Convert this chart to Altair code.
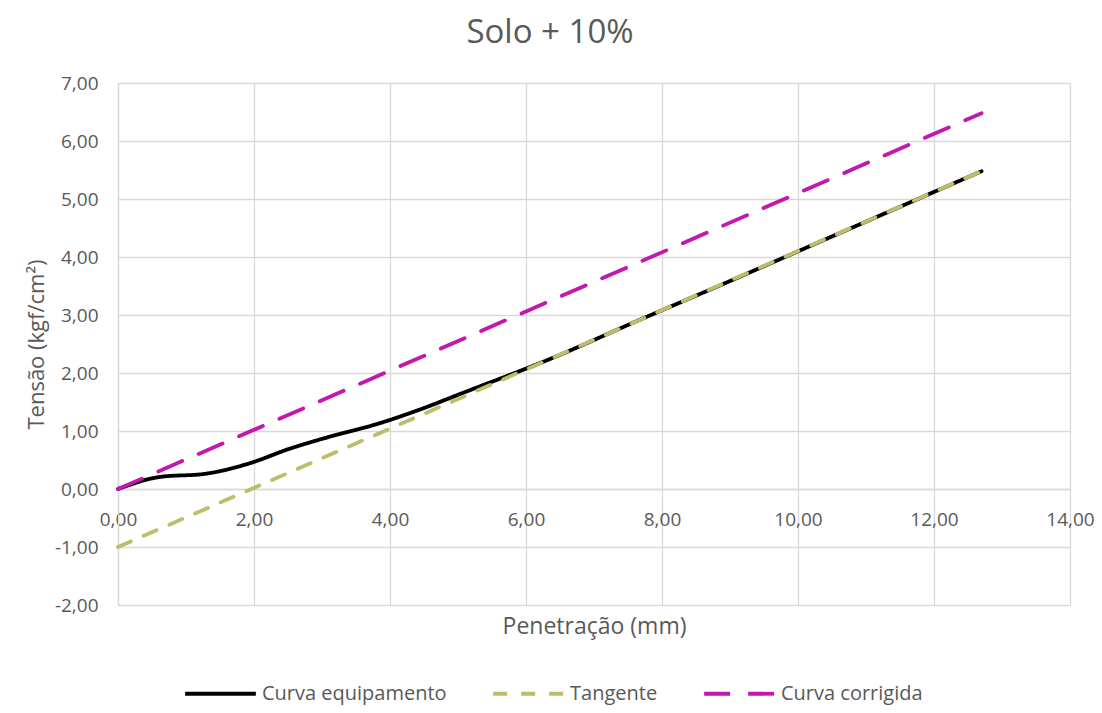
import altair as alt
import pandas as pd

# Curva equipamento (measured curve)
pen_equip = [0.0, 0.63, 1.27, 1.90, 2.54, 3.17, 3.81, 4.44, 5.08, 6.35, 7.62, 8.89, 10.16, 12.70]
ten_equip = [0.0, 0.21, 0.26, 0.43, 0.70, 0.92, 1.12, 1.37, 1.66, 2.24, 2.89, 3.53, 4.18, 5.48]

# Tangente
pen_tang = [0.0, 12.70]
ten_tang = [-1.0, 5.48]

# Curva corrigida
pen_corr = [0.0, 12.70]
ten_corr = [0.0, 6.48]

series_names = ["Curva equipamento", "Tangente", "Curva corrigida"]
series_colors = ["#000000", "#BFBC6C", "#C417B0"]
series_dash = [[1, 0], [14, 14], [26, 18]]

rows = []
for i, (x, y) in enumerate(zip(pen_equip, ten_equip)):
    rows.append({"serie": series_names[0], "x": x, "y": y, "o": i})
for i, (x, y) in enumerate(zip(pen_tang, ten_tang)):
    rows.append({"serie": series_names[1], "x": x, "y": y, "o": i})
for i, (x, y) in enumerate(zip(pen_corr, ten_corr)):
    rows.append({"serie": series_names[2], "x": x, "y": y, "o": i})
df = pd.DataFrame(rows)

FONT = "Open Sans"
TXT = "#595959"
GRID = "#D9D9D9"
SW = 3.8
label_expr = "replace(replace(format(datum.value, '.2f'), '.', ','), '\u2212', '-')"

axis_common = dict(ticks=False, domainColor=GRID, domainWidth=1.3, gridColor=GRID, gridWidth=1.3,
                   labelFont=FONT, titleFont=FONT, labelFontSize=19,
                   labelColor=TXT, titleColor=TXT, titleFontWeight="normal",
                   labelFlush=False, labelOverlap=False, labelExpr=label_expr)

legend_common = dict(title=None, orient="none", direction="horizontal",
                     legendX=65, legendY=573,
                     symbolType="stroke", symbolSize=5000,
                     symbolStrokeWidth=SW,
                     labelFontSize=20, labelColor=TXT, labelFont=FONT, labelLimit=400,
                     labelOffset=4, columnPadding=38)

chart = alt.Chart(df).mark_line(strokeWidth=SW, strokeCap="round", interpolate="monotone").encode(
    x=alt.X("x:Q",
            scale=alt.Scale(domain=[0, 14], nice=False, zero=False),
            axis=alt.Axis(title="Penetração (mm)", values=list(range(0, 15, 2)),
                          offset=-116, labelPadding=21, titleY=126, titleBaseline="top",
                          titleFontSize=23, **axis_common)),
    y=alt.Y("y:Q",
            scale=alt.Scale(domain=[-2, 7], nice=False, zero=False),
            axis=alt.Axis(title="Tensão (kgf/cm²)", values=list(range(-2, 8)),
                          labelPadding=20, titlePadding=6, titleFontSize=22, **axis_common)),
    color=alt.Color("serie:N",
                    scale=alt.Scale(domain=series_names, range=series_colors),
                    sort=series_names,
                    legend=alt.Legend(**legend_common)),
    strokeDash=alt.StrokeDash("serie:N",
                              scale=alt.Scale(domain=series_names, range=series_dash),
                              sort=series_names,
                              legend=alt.Legend(**legend_common)),
    order="o:Q",
).properties(
    width=952,
    height=522,
    title=alt.TitleParams("Solo + 10%", fontSize=33, font=FONT, color=TXT, fontWeight="normal",
                          anchor="middle", dx=-44, offset=24),
    autosize=alt.AutoSizeParams(type="none"),
    padding={"left": 110, "top": 75, "right": 24, "bottom": 100},
).configure_view(stroke=None).configure(background="white")

chart.save("out.html", embed_options={"renderer": "svg", "actions": False})
